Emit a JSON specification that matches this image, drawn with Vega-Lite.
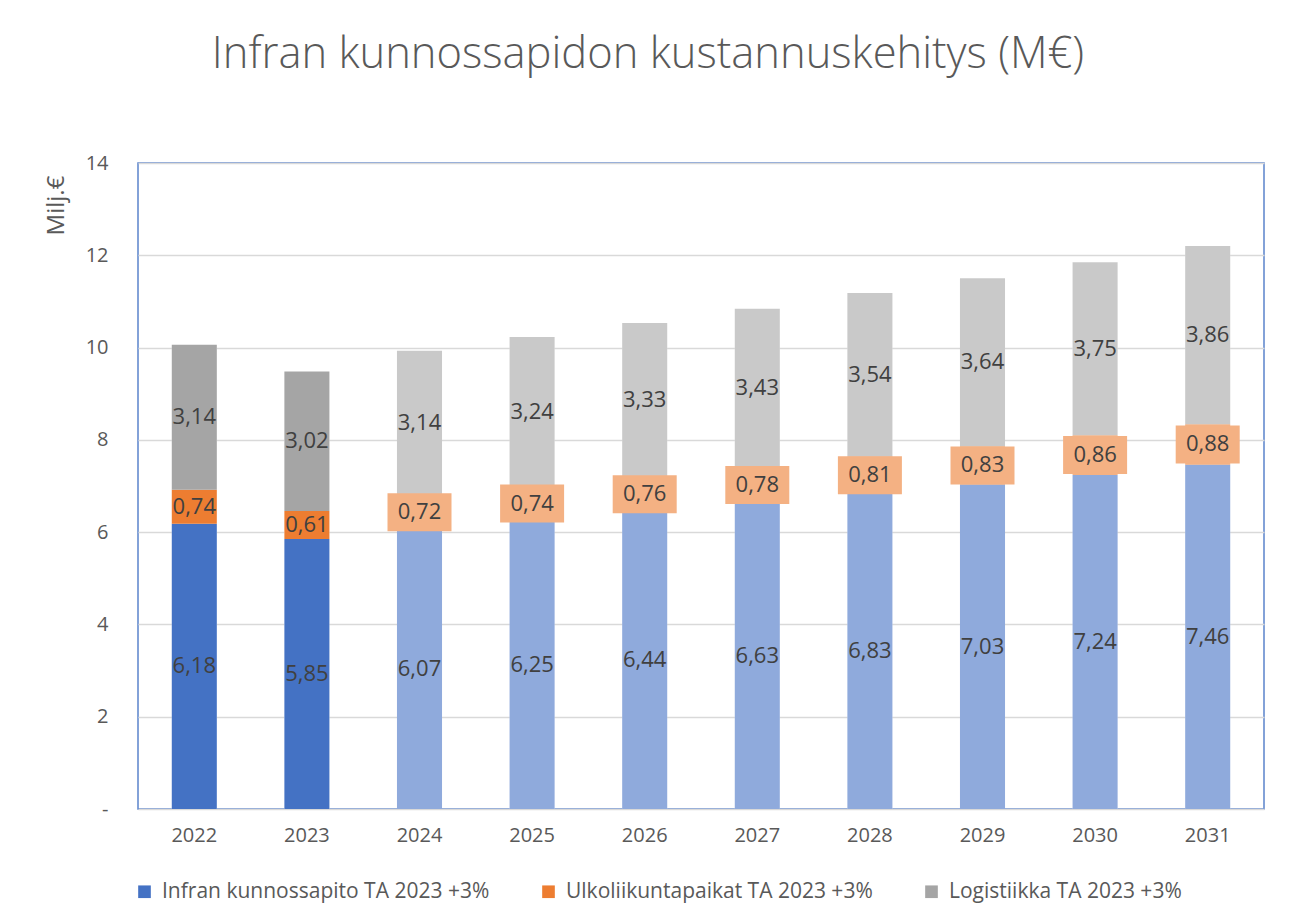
{
  "$schema": "https://vega.github.io/schema/vega-lite/v6.json",
  "autosize": {"type": "none"},
  "padding": {"left": 138, "top": 163, "right": 29, "bottom": 115},
  "width": 1126,
  "height": 646,
  "background": "white",
  "title": {
    "text": "Infran kunnossapidon kustannuskehitys (M€)",
    "font": "Open Sans",
    "fontSize": 43.5,
    "fontWeight": 300,
    "color": "#595959",
    "anchor": "middle",
    "dx": -53,
    "offset": 76
  },
  "config": {
    "locale": {"number": {"decimal": ",", "thousands": " ", "grouping": [3], "currency": ["", " €"]}},
    "view": {"stroke": "#5B84CC", "strokeWidth": 1.5},
    "font": "Open Sans"
  },
  "data": {
    "values": [
      {"year": "2022", "series": "Infran kunnossapito TA 2023 +3%", "order": 1, "period": "toteutunut", "value": 6.18},
      {"year": "2022", "series": "Ulkoliikuntapaikat TA 2023 +3%", "order": 2, "period": "toteutunut", "value": 0.74},
      {"year": "2022", "series": "Logistiikka TA 2023 +3%", "order": 3, "period": "toteutunut", "value": 3.14},
      {"year": "2023", "series": "Infran kunnossapito TA 2023 +3%", "order": 1, "period": "toteutunut", "value": 5.85},
      {"year": "2023", "series": "Ulkoliikuntapaikat TA 2023 +3%", "order": 2, "period": "toteutunut", "value": 0.61},
      {"year": "2023", "series": "Logistiikka TA 2023 +3%", "order": 3, "period": "toteutunut", "value": 3.02},
      {"year": "2024", "series": "Infran kunnossapito TA 2023 +3%", "order": 1, "period": "ennuste", "value": 6.07},
      {"year": "2024", "series": "Ulkoliikuntapaikat TA 2023 +3%", "order": 2, "period": "ennuste", "value": 0.72},
      {"year": "2024", "series": "Logistiikka TA 2023 +3%", "order": 3, "period": "ennuste", "value": 3.14},
      {"year": "2025", "series": "Infran kunnossapito TA 2023 +3%", "order": 1, "period": "ennuste", "value": 6.25},
      {"year": "2025", "series": "Ulkoliikuntapaikat TA 2023 +3%", "order": 2, "period": "ennuste", "value": 0.74},
      {"year": "2025", "series": "Logistiikka TA 2023 +3%", "order": 3, "period": "ennuste", "value": 3.24},
      {"year": "2026", "series": "Infran kunnossapito TA 2023 +3%", "order": 1, "period": "ennuste", "value": 6.44},
      {"year": "2026", "series": "Ulkoliikuntapaikat TA 2023 +3%", "order": 2, "period": "ennuste", "value": 0.76},
      {"year": "2026", "series": "Logistiikka TA 2023 +3%", "order": 3, "period": "ennuste", "value": 3.33},
      {"year": "2027", "series": "Infran kunnossapito TA 2023 +3%", "order": 1, "period": "ennuste", "value": 6.63},
      {"year": "2027", "series": "Ulkoliikuntapaikat TA 2023 +3%", "order": 2, "period": "ennuste", "value": 0.78},
      {"year": "2027", "series": "Logistiikka TA 2023 +3%", "order": 3, "period": "ennuste", "value": 3.43},
      {"year": "2028", "series": "Infran kunnossapito TA 2023 +3%", "order": 1, "period": "ennuste", "value": 6.83},
      {"year": "2028", "series": "Ulkoliikuntapaikat TA 2023 +3%", "order": 2, "period": "ennuste", "value": 0.81},
      {"year": "2028", "series": "Logistiikka TA 2023 +3%", "order": 3, "period": "ennuste", "value": 3.54},
      {"year": "2029", "series": "Infran kunnossapito TA 2023 +3%", "order": 1, "period": "ennuste", "value": 7.03},
      {"year": "2029", "series": "Ulkoliikuntapaikat TA 2023 +3%", "order": 2, "period": "ennuste", "value": 0.83},
      {"year": "2029", "series": "Logistiikka TA 2023 +3%", "order": 3, "period": "ennuste", "value": 3.64},
      {"year": "2030", "series": "Infran kunnossapito TA 2023 +3%", "order": 1, "period": "ennuste", "value": 7.24},
      {"year": "2030", "series": "Ulkoliikuntapaikat TA 2023 +3%", "order": 2, "period": "ennuste", "value": 0.86},
      {"year": "2030", "series": "Logistiikka TA 2023 +3%", "order": 3, "period": "ennuste", "value": 3.75},
      {"year": "2031", "series": "Infran kunnossapito TA 2023 +3%", "order": 1, "period": "ennuste", "value": 7.46},
      {"year": "2031", "series": "Ulkoliikuntapaikat TA 2023 +3%", "order": 2, "period": "ennuste", "value": 0.88},
      {"year": "2031", "series": "Logistiikka TA 2023 +3%", "order": 3, "period": "ennuste", "value": 3.86}
    ]
  },
  "transform": [
    {"stack": "value", "groupby": ["year"], "sort": [{"field": "order", "order": "ascending"}], "as": ["y0", "y1"]},
    {"calculate": "(datum.y0 + datum.y1) / 2", "as": "mid"}
  ],
  "encoding": {
    "x": {
      "field": "year",
      "type": "ordinal",
      "scale": {"paddingInner": 0.6, "paddingOuter": 0.3},
      "axis": {
        "title": null,
        "labelAngle": 0,
        "labelFontSize": 20,
        "labelColor": "#595959",
        "labelPadding": 16,
        "ticks": false,
        "domain": false
      }
    }
  },
  "layer": [
    {
      "mark": {"type": "bar", "fill": "white"},
      "encoding": {
        "y": {
          "field": "y0",
          "type": "quantitative",
          "scale": {"domain": [0, 14]},
          "axis": {
            "title": "Milj.€",
            "titleFontSize": 24,
            "titleFontWeight": "normal",
            "titleColor": "#595959",
            "titleAngle": -90,
            "titleX": -82,
            "titleY": 42,
            "titleAlign": "center",
            "titleBaseline": "middle",
            "values": [0, 2, 4, 6, 8, 10, 12, 14],
            "labelExpr": "datum.value == 0 ? '-' : datum.label",
            "labelFontSize": 20,
            "labelColor": "#595959",
            "labelPadding": 30,
            "ticks": false,
            "domain": false,
            "gridColor": "#D9D9D9",
            "gridWidth": 1.5
          }
        },
        "y2": {"field": "y1"}
      }
    },
    {
      "mark": {"type": "bar"},
      "encoding": {
        "y": {"field": "y0", "type": "quantitative"},
        "y2": {"field": "y1"},
        "color": {
          "field": "series",
          "type": "nominal",
          "scale": {
            "domain": ["Infran kunnossapito TA 2023 +3%", "Ulkoliikuntapaikat TA 2023 +3%", "Logistiikka TA 2023 +3%"],
            "range": ["#4472C4", "#ED7D31", "#A5A5A5"]
          },
          "legend": {
            "title": null,
            "orient": "none",
            "legendX": -4,
            "legendY": 718,
            "direction": "horizontal",
            "symbolType": "square",
            "symbolSize": 160,
            "symbolOpacity": 1,
            "symbolStrokeWidth": 0,
            "labelFontSize": 21,
            "labelColor": "#595959",
            "labelLimit": 0,
            "labelOffset": 7,
            "columnPadding": 48
          }
        },
        "opacity": {
          "field": "period",
          "type": "nominal",
          "scale": {"domain": ["toteutunut", "ennuste"], "range": [1, 0.6]},
          "legend": null
        }
      }
    },
    {
      "transform": [{"filter": "datum.order == 2 && datum.period == 'ennuste'"}],
      "mark": {
        "type": "point",
        "shape": "M -1 -0.594 L 1 -0.594 L 1 0.594 L -1 0.594 Z",
        "filled": true,
        "fill": "#F4B183",
        "opacity": 1,
        "strokeWidth": 0,
        "size": 4096
      },
      "encoding": {
        "y": {"field": "mid", "type": "quantitative"}
      }
    },
    {
      "mark": {"type": "text", "fontSize": 22, "color": "#404040", "baseline": "middle", "align": "center"},
      "encoding": {
        "y": {"field": "mid", "type": "quantitative"},
        "text": {"field": "value", "type": "quantitative", "format": ".2f"}
      }
    }
  ]
}
